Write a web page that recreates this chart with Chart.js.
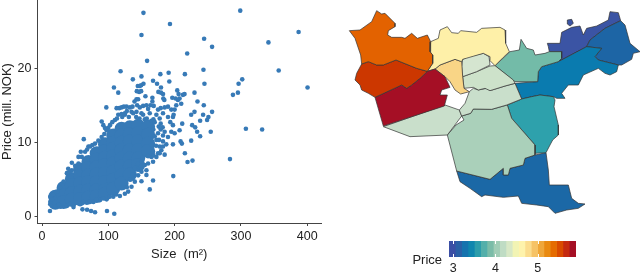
<!DOCTYPE html>
<html><head><meta charset="utf-8">
<script src="https://cdn.jsdelivr.net/npm/chart.js@4/dist/chart.umd.min.js"></script>
<style>
html,body{margin:0;padding:0;background:#fff;width:640px;height:272px;overflow:hidden}
canvas{position:absolute}
#lbl{position:absolute;left:400px;top:251.5px;width:42px;text-align:right;font:13px "Liberation Sans",Arial,sans-serif;color:#222;line-height:15px}
</style></head><body>
<canvas id="sc" width="330" height="272" style="left:0;top:0"></canvas>
<canvas id="mp" width="300" height="270" style="left:340px;top:0"></canvas>
<canvas id="cb" width="145" height="36" style="left:440px;top:236px"></canvas>
<div id="lbl">Price</div>
<script>
// Scatter: [size m2, price mill. NOK]
const outliers=[[153,27.6],[193,26.1],[150,24.6],[299,27.9],[387,25],[341.5,23.6],[244.5,24.1],[256.5,23],[219,22.1],[158.5,21.1],[118.5,19.7],[357,19.8],[400.5,17.5],[302,18.6],[296.5,18],[295.5,16.8],[288,16.5],[243.5,19.9],[245,18],[215.5,19.3],[191,19.5],[192,18.3],[178.5,19.3],[150,19],[137,18.6],[108.5,17.5],[115,16.8],[230,16.8],[234.5,15.6],[244,15.1],[256.5,14.2],[230,14.2],[225,13.8],[243,13.8],[251,13.5],[249,13.1],[238.5,13],[226.5,12.4],[231,12.1],[234,11.5],[238.5,10.9],[254.5,11.5],[307.5,11.9],[332,11.8],[283.5,7.8],[225,10.3],[209,10.2],[211,9.9],[215.5,8.6],[219.5,7.4],[227,7.6],[198,5.5],[162.5,3.7],[167.5,4.9],[150,4.8],[12,0.77],[61,1],[68,0.95],[74,0.77],[80,0.6],[98,0.77],[109,0.4],[47.5,1.3],[63,10.5],[97,14.8],[39.5,6.5]];
const upperScatter=[[144.5,17.7],[147.5,17.7],[149.5,17.8],[153,18],[146.5,16.9],[143,17],[149.5,17],[167.5,18.4],[173.5,18],[179.5,17.5],[175.5,16.9],[179.5,16.8],[182.5,16.6],[183,16],[184.5,15.8],[166.5,16.1],[166.5,15.6],[156,16.3],[142.5,15.9],[139.5,15.6],[145,15.9],[112.5,14.7],[116.5,14.7],[120,14.8],[123.5,14.9],[127.5,14.9],[132.5,14.8],[136.5,14.9],[143.5,15.1],[147.5,14.8],[152.5,15],[157.5,15.1],[163.5,15.1],[168.5,15],[175,14.5],[179,14.7],[185,14.8],[190,14.9],[195,14.5],[200,14.5],[198.5,13.8],[197.5,13.5],[204,17.1],[206,16.6],[201.5,16],[196.5,16.1],[207.5,16],[212.5,16.5],[205,15.8],[210,15.3],[202.5,15.1],[215,16.6],[193.5,12.8],[197.5,12.4],[195,11.5],[200,11.3],[207.5,11.7],[211.5,12.6],[190,10.8],[187.5,9.8],[197.5,9.8],[182.5,9.5],[185,8.4],[180,9],[177.5,8.6],[172.5,8.1],[176,12.2],[179,12.6],[182,12.1],[179,11.8],[172.5,13.8],[177.5,13.3],[182.5,14],[190,13.5],[162.5,14],[152.5,13.8],[142.5,14.2],[137.5,14],[125,13.8],[182.5,11],[176.5,10.4],[185,11.5],[175,11.3],[92.5,12.4],[90,12.9],[95,12],[70,9.5],[55,8.1],[58.5,8.8],[45,7.3],[150,14],[158,13.3],[168,13.2],[160,14.6],[147,13.3],[128,14.3],[120,13.9],[170,12.8],[168,11.8],[170,10.9],[165,9.7],[172,9.6],[168,8.3],[160,8.2],[152,8],[150,7.5],[145,7.2],[140,6.6]];
const lowerEdge=[[12.5,1.7],[20,1.4],[27.5,1.35],[37.5,1.45],[47.5,1.6],[57.5,1.7],[67.5,1.9],[77.5,2],[87.5,2.25],[97.5,2.35],[107.5,2.7],[117.5,2.8],[125,3.1],[130,3.4],[135,4.05],[140,4.75],[145,5.6],[150,6.1],[157.5,6.3],[157.5,5.65],[155,7],[160,7.2],[167.5,7.45],[165,8.1],[175,8.6],[177.5,9.5],[172.5,10.4],[182.5,10.2],[167.5,8.8],[13,2.1],[15,2.3],[25,1.6],[42,1.7],[52,1.9],[62,2],[72,2.1],[82,2.3],[92,2.5],[102,2.7],[112,3],[128,4],[133,5],[137,5.7],[143,6.5],[148,7]];
const upperEdge=[[12.5,2.7],[16.5,3.05],[22.5,3.4],[32.5,4.75],[37.5,5.9],[45,6.3],[55,7.2],[60,8.1],[65,8.8],[72.5,9.5],[80,9.9],[90,10.8],[97.5,11.7],[102.5,12.4],[110,13.1],[115,13.8],[125,14],[135,14.2],[27,4],[41,6],[50,6.9],[68,9.1],[76,9.7],[85,10.3],[94,11.2],[100,12],[106,12.8],[113,13.3],[121,13.5],[131,13.5],[142,13.5],[155,13.2],[165,13]];
// Overplotted dense core, drawn with larger markers
const core=[[20,2.7],[20,1.9],[32.5,3.9],[32.5,2.9],[32.5,2],[45,5.1],[45,4.3],[45,3.2],[45,2.3],[57.5,6.4],[57.5,5.6],[57.5,4.5],[57.5,3.4],[57.5,2.4],[70,7.4],[70,6.6],[70,5.6],[70,4.7],[70,3.6],[70,2.6],[82.5,8.6],[82.5,7.7],[82.5,6.7],[82.5,5.7],[82.5,4.7],[82.5,3.6],[82.5,2.8],[95,9.8],[95,8.9],[95,8],[95,7],[95,5.9],[95,4.7],[95,3.6],[95,3.1],[107.5,11],[107.5,10],[107.5,9.2],[107.5,8.2],[107.5,7.2],[107.5,6.1],[107.5,5],[107.5,3.8],[120,11.9],[120,11],[120,10],[120,9],[120,7.9],[120,6.8],[120,5.6],[120,4.5],[132.5,12.1],[132.5,11.2],[132.5,10.2],[132.5,9],[132.5,7.9],[132.5,6.8],[132.5,5.7],[145,12.3],[145,11.3],[145,10.2],[145,9],[145,7.9],[145,7],[160,12.2],[160,11.1],[160,9.9],[160,8.9]];
const xTickVals=[0,100,200,300,400];
const yTickVals=[0,10,20];
// Map districts (map units), with mean price colours
const districts=[
{c:"#E36200",p:[28,92,60,90,95,65,110,32,125,42,135,40,165,70,165,80,145,92,143,105,155,112,185,112,195,115,215,100,232,115,262,105,272,125,270,155,278,165,278,190,262,214,230,205,168,180,130,195,110,195,85,185,65,192,62,165,45,115]},
{c:"#CC3700",p:[65,192,85,185,110,195,130,195,168,180,230,205,262,214,240,235,215,255,200,265,185,255,105,292,85,280,65,270,60,255,45,240,50,220]},
{c:"#A50F25",p:[105,292,185,255,200,265,215,255,240,235,262,214,285,207,315,230,330,262,305,270,300,285,322,285,313,318,130,378]},
{c:"#FEF0A8",p:[272,125,295,115,300,90,322,80,335,98,355,100,362,92,410,97,425,85,480,82,495,90,497,130,508,155,490,172,465,197,450,182,450,170,430,160,368,178,365,185,345,178,300,195,285,207,262,214,278,190,278,165,270,155]},
{c:"#F9D586",p:[285,207,300,195,345,178,365,185,368,230,372,265,388,275,362,282,345,270,330,245,315,230]},
{c:"#D5E5D0",p:[368,178,385,170,430,160,447,170,450,195,410,215,368,230,365,200]},
{c:"#CDE2CA",p:[368,230,410,215,450,198,465,197,520,240,525,250,495,258,450,272,435,265,415,270,400,262,372,265]},
{c:"#C9DFCB",p:[358,330,375,310,388,275,400,265,415,270,440,265,450,272,495,258,525,250,545,297,500,315,455,328,400,327,392,340,365,348]},
{c:"#C9DFCB",p:[130,380,315,315,358,330,365,348,322,405,210,410]},
{c:"#AAD0BA",p:[322,405,348,375,372,360,365,348,392,340,400,327,455,328,502,315,515,355,585,435,585,465,555,475,550,495,510,505,505,525,490,525,490,505,450,538,350,513]},
{c:"#2EA1AC",p:[502,315,545,297,575,290,600,285,640,290,645,300,642,320,655,375,655,405,638,420,630,435,618,458,585,460,585,435,515,355]},
{c:"#1B68A6",p:[350,513,450,538,490,505,490,525,505,525,510,505,550,495,555,475,585,465,618,458,625,510,628,555,685,555,690,575,695,595,715,610,735,612,715,625,680,630,645,640,625,620,590,615,545,610,535,588,490,592,435,585,425,590,390,565,360,545]},
{c:"#73BBA8",p:[465,197,510,155,538,150,543,118,560,145,580,150,585,165,615,160,628,155,665,155,665,175,655,185,605,200,595,215,593,245,525,245]},
{c:"#0A7BAF",p:[525,250,593,245,595,215,605,200,655,185,740,140,785,145,765,170,775,180,835,195,830,215,810,225,795,220,775,205,730,225,715,255,685,255,665,280,675,295,650,295,640,290,600,285,575,290,545,297]},
{c:"#1D65A5",p:[740,140,750,120,795,85,842,62,855,75,870,130,900,155,880,160,875,178,845,195,835,195,775,180,765,170,785,145]},
{c:"#3B54A4",p:[622,130,660,130,665,97,695,82,720,78,730,105,740,85,770,78,805,60,810,35,835,38,842,62,795,85,750,120,740,140,655,185,665,155,628,155,625,140]},
{c:"#3B54A4",p:[682,60,695,58,700,70,690,78,682,72]}
];
const barColors=["#3B4FA5","#2A60A6","#1573AE","#0F86AE","#2C9DAB","#53AFAA","#7ABCA8","#A0CDB6","#BFDCC4","#D8E8C6","#F2F4B4","#FEF3AC","#FBDD8E","#F6C366","#EFA739","#E98A10","#E56C00","#D94B00","#C52A10","#A50F25"];
const barEdges=[2.9,3.05,3.2,3.35,3.5,3.65,3.8,3.95,4.1,4.25,4.4,4.55,4.7,4.85,5,5.15,5.3,5.45,5.6,5.75,5.91];
const legendTicks=[3,4,5];

const FONT="'Liberation Sans',Arial,sans-serif";
const toXY=a=>a.map(p=>({x:p[0],y:p[1]}));
const BLUE="#377AB7";
const noPad=s=>{s.paddingTop=0;s.paddingBottom=0;s.paddingLeft=0;s.paddingRight=0;};
function dots(arr,r){return {data:toXY(arr),backgroundColor:BLUE,borderWidth:0,pointRadius:r,pointHoverRadius:r};}
new Chart(document.getElementById("sc"),{type:"scatter",
 data:{datasets:[dots(outliers,2.3),dots(upperScatter,2.3),dots(lowerEdge,2.3),dots(upperEdge,2.3),dots(core,7)]},
 options:{responsive:false,animation:false,devicePixelRatio:1,layout:{autoPadding:false,padding:{top:0,right:9,left:0,bottom:0}},
  plugins:{legend:{display:false},tooltip:{enabled:false}},
  scales:{
   x:{type:"linear",min:-6.8,max:420.8,afterBuildTicks:a=>{a.ticks=xTickVals.map(v=>({value:v}))},afterFit:s=>{s.height=49;noPad(s)},
     grid:{drawOnChartArea:false,tickLength:3,tickColor:"#444"},border:{color:"#444",width:1},
     ticks:{color:"#222",font:{family:FONT,size:12.5},padding:3,maxRotation:0,autoSkip:false},
     title:{display:true,text:"Size  (m²)",color:"#222",font:{family:FONT,size:13},padding:{top:3,bottom:10}}},
   y:{type:"linear",min:-0.85,max:29.34,afterBuildTicks:a=>{a.ticks=yTickVals.map(v=>({value:v}))},afterFit:s=>{s.width=37.5;noPad(s)},
     grid:{drawOnChartArea:false,tickLength:3,tickColor:"#444"},border:{color:"#444",width:1},
     ticks:{color:"#222",font:{family:FONT,size:12.5},padding:3,autoSkip:false},
     title:{display:true,text:"Price (mill. NOK)",color:"#222",font:{family:FONT,size:13},padding:{top:0,bottom:0}}}
  }}});

function poly(flat){const o=[];for(let i=0;i<flat.length;i+=2)o.push({x:flat[i],y:flat[i+1]});o.push({x:flat[0],y:flat[1]});return o;}
new Chart(document.getElementById("mp"),{type:"scatter",
 data:{datasets:districts.map(d=>({data:poly(d.p),showLine:true,fill:"shape",backgroundColor:d.c,borderColor:"#333",borderWidth:0.7,pointRadius:0,tension:0}))},
 options:{responsive:false,animation:false,devicePixelRatio:1,layout:{autoPadding:false,padding:0},
  plugins:{legend:{display:false},tooltip:{enabled:false}},
  scales:{x:{type:"linear",min:0,max:900,display:false},y:{type:"linear",min:0,max:810,reverse:true,display:false}}}});

new Chart(document.getElementById("cb"),{type:"bar",
 data:{labels:["Price"],datasets:barColors.map((c,i)=>({data:[[barEdges[i],barEdges[i+1]]],backgroundColor:c,borderWidth:0,barPercentage:1,categoryPercentage:1,grouped:false}))},
 plugins:[{id:"whiteTicks",afterDatasetsDraw(ch){const g=ch.ctx,a=ch.chartArea,s=ch.scales.x;g.save();g.strokeStyle="#fff";g.lineWidth=1;
   legendTicks.forEach(v=>{const x=Math.round(s.getPixelForValue(v))+.5;g.beginPath();g.moveTo(x,a.top);g.lineTo(x,a.top+3);g.moveTo(x,a.bottom-3);g.lineTo(x,a.bottom);g.stroke();});g.restore();}}],
 options:{indexAxis:"y",responsive:false,animation:false,devicePixelRatio:1,layout:{autoPadding:false,padding:{left:9,right:9,top:5,bottom:0}},
  plugins:{legend:{display:false},tooltip:{enabled:false}},
  scales:{x:{type:"linear",min:2.9,max:5.91,afterBuildTicks:a=>{a.ticks=legendTicks.map(v=>({value:v}))},afterFit:s=>{s.height=15;noPad(s)},
     grid:{display:false,drawTicks:false},border:{display:false},ticks:{color:"#222",font:{family:FONT,size:12.5},padding:4,maxRotation:0}},
   y:{display:false}}}});
</script></body></html>
